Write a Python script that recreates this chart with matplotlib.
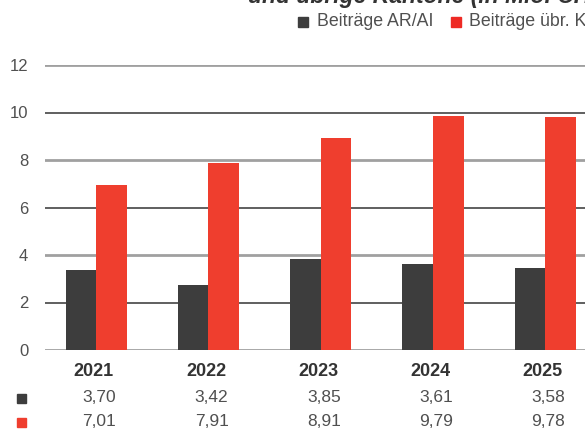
import matplotlib
matplotlib.use("Agg")
import matplotlib.pyplot as plt
from matplotlib.patches import Rectangle
from matplotlib.transforms import blended_transform_factory

plt.rcParams['font.family'] = ['Liberation Sans', 'DejaVu Sans']

years = ['2021', '2022', '2023', '2024', '2025']
# bar heights as drawn in the picture
ar_ai = [3.37, 2.74, 3.83, 3.62, 3.45]
uebrige = [6.95, 7.87, 8.93, 9.85, 9.81]
# values printed in the table below the chart
ar_ai_txt = ['3,70', '3,42', '3,85', '3,61', '3,58']
uebrige_txt = ['7,01', '7,91', '8,91', '9,79', '9,78']
yticks = [0, 2, 4, 6, 8, 10, 12]

dark = '#3d3d3d'
red = '#ef3e2e'
txt = '#505050'

W, H = 585, 430
fig = plt.figure(figsize=(W / 100, H / 100), dpi=100)
ax = fig.add_axes([45 / W, 1 - 350 / H, 551 / W, 285 / H])

x = list(range(len(years)))
bw = 0.27
ax.bar([i - bw / 2 for i in x], ar_ai, width=bw, color=dark, zorder=3)
ax.bar([i + bw / 2 + 0.003 for i in x], uebrige, width=bw + 0.005, color=red, zorder=3)

# grid lines alternate light / dark
for t in yticks:
    if t % 4 == 0:
        ax.axhline(t, color='#a0a0a0', lw=2.0, zorder=1)
    else:
        ax.axhline(t, color='#444444', lw=1.2, zorder=1)

ax.set_xlim(-0.454, 4.454)
ax.set_ylim(0, 12)
ax.set_yticks(yticks)
ax.set_xticks([])
ax.tick_params(axis='y', length=0, pad=12, labelsize=12, labelcolor=txt)
for s in ax.spines.values():
    s.set_visible(False)
ax.patch.set_alpha(0)

# table under the chart
tr = blended_transform_factory(ax.transData, fig.transFigure)
for i in x:
    ax.text(i - 0.02, 1 - 372 / H, years[i], transform=tr,
            ha='center', va='center', fontsize=13, fontweight='bold', color='#333333')
    ax.text(i + 0.03, 1 - 397 / H, ar_ai_txt[i], transform=tr,
            ha='center', va='center', fontsize=12.5, color=txt)
    ax.text(i + 0.03, 1 - 421 / H, uebrige_txt[i], transform=tr,
            ha='center', va='center', fontsize=12.5, color=txt)

fig.add_artist(Rectangle((17 / W, 1 - 403 / H), 9 / W, 9 / H, color=dark, transform=fig.transFigure))
fig.add_artist(Rectangle((17 / W, 1 - 427 / H), 9 / W, 9 / H, color=red, transform=fig.transFigure))

# legend
fig.add_artist(Rectangle((298 / W, 1 - 27 / H), 10 / W, 10 / H, color=dark, transform=fig.transFigure))
fig.text(317 / W, 1 - 21 / H, 'Beiträge AR/AI', ha='left', va='center', fontsize=12.8, color=txt)
fig.add_artist(Rectangle((451 / W, 1 - 27 / H), 10 / W, 10 / H, color='#ee2a24', transform=fig.transFigure))
fig.text(469 / W, 1 - 21 / H, 'Beiträge übr. Kantone', ha='left', va='center', fontsize=12.8, color=txt)

# title (cut off at the top like the source)
fig.text(248 / W, 1 - 3 / H, 'und übrige Kantone (in Mio. CHF)', ha='left', va='baseline',
         fontsize=16.5, fontweight='bold', fontstyle='italic', color='#333333')

fig.savefig('out.png', dpi=100)
